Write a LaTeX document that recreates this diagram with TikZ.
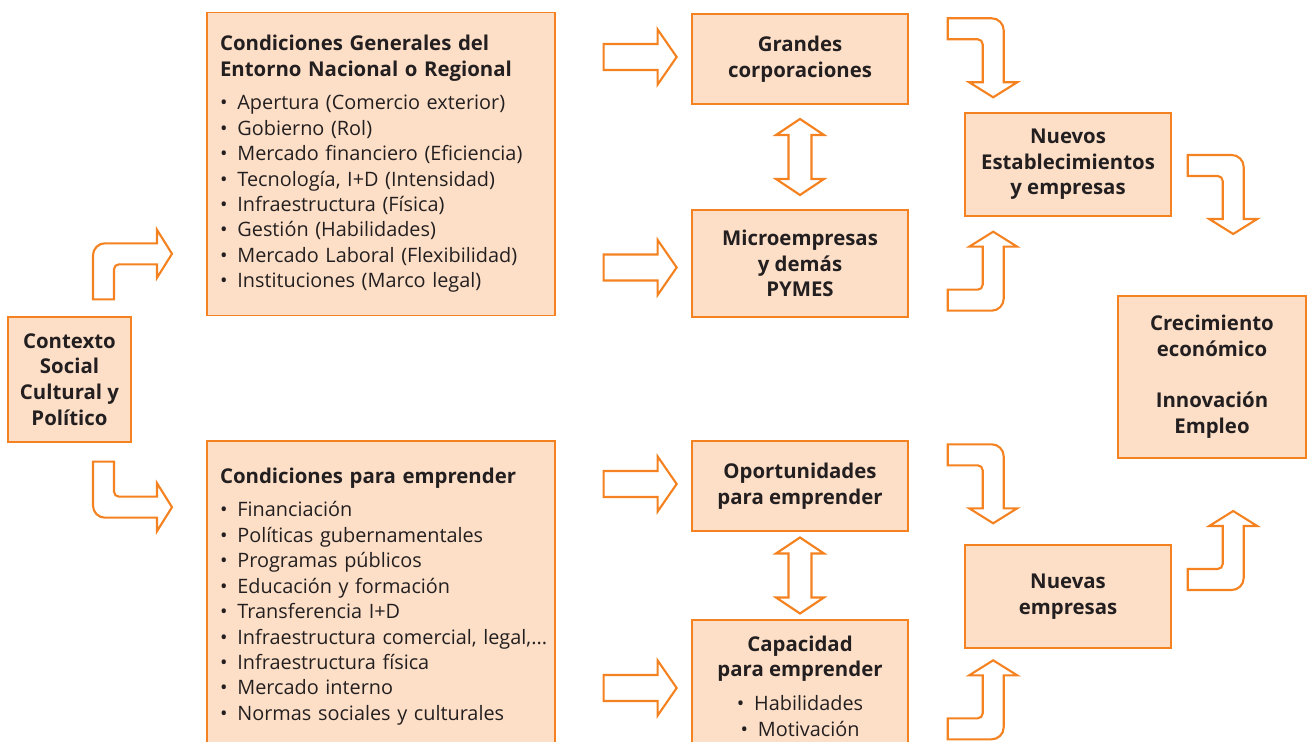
\documentclass[tikz,border=0pt]{standalone}
\usepackage{fontspec}
\setmainfont{Open Sans}
\usetikzlibrary{calc}
\definecolor{naranja}{HTML}{F58220}
\definecolor{crema}{HTML}{FDDFC7}
\definecolor{texto}{HTML}{231F20}
\newcommand{\punto}{\textbullet\hspace{0.5em}}
\newcommand{\titulo}[1]{{\fontsize{11.6}{14.5}\selectfont\bfseries #1}}

\begin{document}
\begin{tikzpicture}[x=0.02cm,y=-0.02cm,text=texto,
caja/.style={draw=naranja,fill=crema,line width=0.8pt,inner sep=0pt,align=center,font=\fontsize{11.6}{14.6}\selectfont\bfseries},
lista/.style={draw=naranja,fill=crema,line width=0.8pt,inner ysep=0pt,inner xsep=0.26cm,align=left,text width=6.44cm,font=\fontsize{11.3}{14.5}\selectfont},
flecha/.style={draw=naranja,fill=white,line width=1.2pt},
pics/derecha/.style={code={\draw[flecha] (0,-13) -- (54,-13) -- (54,-27.5) -- (73,0) -- (54,27.5) -- (54,13) -- (0,13) -- cycle;}},
pics/doble/.style={code={\draw[flecha] (0,-38) -- (24,-22) -- (11.5,-22) -- (11.5,22) -- (24,22) -- (0,38) -- (-24,22) -- (-11.5,22) -- (-11.5,-22) -- (-24,-22) -- cycle;}},
pics/codo/.style={code={\draw[flecha] (0,0) -- (44,0) .. controls (50.6,0) and (56,5.4) .. (56,12) -- (56,64) -- (69.5,64) -- (45.5,79) -- (21.5,64) -- (35,64) -- (35,26) .. controls (35,23.2) and (32.8,21) .. (30,21) -- (0,21) -- cycle;}}]
\useasboundingbox (0,0) rectangle (1307,742);
% boxes
\node[caja,minimum width=2.46cm,minimum height=2.5cm] (ctx) at (69.5,379.5) {Contexto\\Social\\Cultural y\\Político};
\node[lista,minimum height=6.06cm] (gen) at (381,164) {\titulo{Condiciones Generales del}\\\titulo{Entorno Nacional o Regional}\\[4.5pt]
\punto Apertura (Comercio exterior)\\
\punto Gobierno (Rol)\\
\punto Mercado financiero (Eficiencia)\\
\punto Tecnología, I+D (Intensidad)\\
\punto Infraestructura (Física)\\
\punto Gestión (Habilidades)\\
\punto Mercado Laboral (Flexibilidad)\\
\punto Instituciones (Marco legal)};
\node[lista,minimum height=6.22cm] (emp) at (381,596.5) {\titulo{Condiciones para emprender}\\[4.5pt]
\punto Financiación\\
\punto Políticas gubernamentales\\
\punto Programas públicos\\
\punto Educación y formación\\
\punto Transferencia I+D\\
\mbox{\punto Infraestructura comercial, legal,...}\\
\punto Infraestructura física\\
\punto Mercado interno\\
\punto Normas sociales y culturales};
\node[caja,minimum width=4.32cm,minimum height=1.8cm] (gran) at (800,59) {Grandes\\corporaciones};
\node[caja,minimum width=4.32cm,minimum height=2.14cm] (micro) at (800,263.5) {Microempresas\\y demás\\PYMES};
\node[caja,minimum width=4.32cm,minimum height=1.8cm] (opor) at (800,486) {Oportunidades\\para emprender};
\node[caja,minimum width=4.32cm,minimum height=2.64cm] (cap) at (800,686) {Capacidad\\para emprender\\[4.5pt]
{\mdseries\fontsize{11.3}{14.6}\selectfont\punto Habilidades}\\{\mdseries\fontsize{11.3}{14.6}\selectfont\punto Motivación}};
\node[caja,minimum width=4.12cm,minimum height=2.06cm] (nest) at (1068,164.5) {Nuevos\\Establecimientos\\y empresas};
\node[caja,minimum width=4.12cm,minimum height=2.06cm] (nemp) at (1068,596.5) {Nuevas\\empresas};
\node[caja,minimum width=3.76cm,minimum height=3.24cm] (crec) at (1212,377) {Crecimiento\\económico\\[14.6pt]Innovación\\Empleo};
% block arrows
\path ($(gen.east|-gran.west)+(48,-2)$) pic {derecha};
\path ($(gen.east|-micro.west)+(48,4)$) pic {derecha};
\path ($(emp.east|-opor.west)+(48,-2)$) pic {derecha};
\path ($(emp.east|-cap.west)+(48,2)$) pic {derecha};
\path ($(gran.south)!.5!(micro.north)$) pic {doble};
\path ($(opor.south)!.5!(cap.north)$) pic {doble};
\path ($(gran.north east)+(39,5)$) pic {codo};
\path ($(micro.south east)+(39,-7)$) pic[yscale=-1] {codo};
\path ($(nest.east)+(16,-9.5)$) pic {codo};
\path ($(opor.north east)+(39,4)$) pic {codo};
\path ($(cap.north east)+(39,120)$) pic[yscale=-1] {codo};
\path ($(nemp.east)+(16,-6.5)$) pic[yscale=-1] {codo};
\path ($(ctx.north)+(23.5,-17)$) pic[cm={0,1,-1,0,(0,0)}] {codo};
\path ($(ctx.south)+(23.5,19)$) pic[cm={0,-1,-1,0,(0,0)}] {codo};
\end{tikzpicture}
\end{document}
